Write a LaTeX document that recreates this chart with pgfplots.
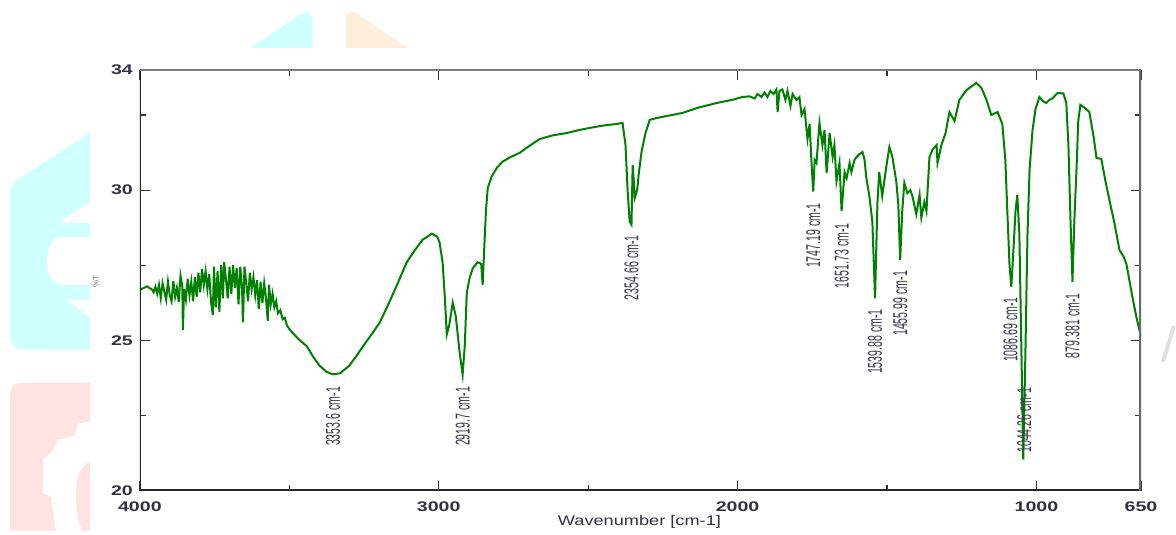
\documentclass[border=0pt]{standalone}
\usepackage{fontspec}
\setmainfont{Liberation Sans}
\newfontfamily\tickfont[FakeStretch=1.4]{Liberation Sans}
\newfontfamily\labfont[FakeStretch=1.3]{Liberation Sans}
\newfontfamily\annfont[FakeStretch=0.53]{Liberation Sans}
\usepackage{pgfplots}
\usepackage{pgfplotstable}
\pgfplotsset{compat=1.18}
\definecolor{spec}{RGB}{0,128,0}
\definecolor{txt}{RGB}{48,50,66}
\definecolor{annc}{RGB}{55,57,78}
\definecolor{wmcyan}{RGB}{208,255,255}
\definecolor{wmpink}{RGB}{255,226,226}
\definecolor{wmorange}{RGB}{255,238,220}
\definecolor{topgray}{RGB}{125,125,125}
\definecolor{rightgray}{RGB}{105,105,105}

\pgfplotstableread{
w v
4000 26.68
3992 26.72
3984 26.76
3976 26.80
3968 26.74
3960 26.70
3954 26.60
3948 26.78
3942 26.55
3936 26.85
3930 26.40
3924 26.90
3918 26.62
3912 26.35
3906 26.95
3900 26.50
3894 26.30
3888 26.98
3882 26.45
3876 26.75
3870 26.28
3864 27.15
3858 26.80
3856 25.35
3852 26.70
3846 26.35
3840 27.05
3834 26.50
3828 26.95
3822 26.30
3816 27.10
3810 26.45
3804 27.25
3798 26.60
3792 27.38
3786 26.85
3780 27.30
3774 26.70
3768 27.20
3762 26.30
3756 25.85
3752 27.45
3746 26.10
3740 27.30
3734 25.95
3728 27.50
3722 26.40
3718 27.60
3712 27.05
3706 26.40
3700 27.45
3694 26.55
3688 27.50
3682 26.75
3676 27.40
3670 26.20
3664 27.45
3658 26.70
3655 25.60
3650 27.45
3644 26.90
3638 26.30
3632 27.25
3626 26.70
3620 27.10
3614 26.50
3608 27.00
3602 26.05
3596 26.95
3590 26.25
3584 26.90
3578 26.40
3572 25.65
3568 26.85
3562 26.20
3556 26.55
3550 26.10
3544 26.30
3538 25.90
3530 26.00
3522 25.70
3515 25.75
3508 25.50
3498 25.35
3470 25.05
3441 24.80
3420 24.45
3398 24.15
3375 23.95
3355 23.87
3331 23.90
3300 24.15
3274 24.50
3250 24.85
3221 25.25
3197 25.60
3164 26.30
3135 26.95
3107 27.60
3080 28.00
3054 28.35
3023 28.55
3005 28.45
2997 28.25
2987 27.60
2980 26.50
2973 25.20
2965 25.50
2953 26.25
2943 25.80
2930 24.60
2920 23.86
2913 24.80
2906 26.60
2896 27.10
2886 27.40
2870 27.60
2858 27.55
2853 26.85
2848 28.00
2842 29.30
2836 30.07
2823 30.45
2805 30.75
2786 30.95
2760 31.10
2729 31.24
2700 31.45
2662 31.70
2620 31.82
2572 31.90
2530 32.00
2495 32.07
2450 32.15
2405 32.20
2385 32.24
2375 31.50
2368 30.00
2361 28.95
2355 28.85
2351 30.84
2346 30.10
2344 29.74
2336 30.00
2330 30.60
2321 31.30
2308 31.90
2294 32.34
2271 32.40
2230 32.48
2184 32.57
2130 32.75
2070 32.90
2020 33.00
1983 33.10
1960 33.12
1943 33.05
1933 33.20
1920 33.10
1910 33.25
1900 33.10
1890 33.30
1880 33.20
1870 33.35
1866 32.60
1860 33.30
1850 33.35
1840 33.00
1833 33.30
1823 32.80
1816 33.20
1803 33.00
1793 33.10
1786 32.50
1776 32.70
1766 31.70
1759 32.20
1753 31.00
1747 29.95
1742 31.00
1736 30.90
1726 32.24
1716 31.50
1709 32.00
1702 30.57
1692 31.90
1682 31.10
1676 31.50
1669 30.30
1659 30.90
1652 29.30
1642 30.60
1635 30.40
1625 30.90
1619 30.60
1609 31.00
1602 31.10
1592 31.20
1582 31.27
1575 31.00
1569 30.40
1559 29.80
1549 28.95
1540 26.40
1532 29.60
1526 30.60
1516 29.80
1502 30.80
1492 31.44
1482 31.10
1469 30.30
1462 29.50
1456 27.68
1449 29.30
1442 30.24
1432 29.90
1422 30.00
1415 29.80
1402 29.20
1391 29.85
1385 29.08
1375 29.60
1368 29.30
1358 31.10
1348 31.34
1334 31.50
1331 30.90
1318 31.50
1304 31.90
1291 32.60
1274 32.30
1258 33.00
1234 33.33
1201 33.57
1184 33.40
1167 33.00
1151 32.50
1130 32.60
1114 32.20
1104 31.00
1097 29.20
1090 27.50
1084 26.78
1077 28.00
1070 29.30
1064 29.84
1057 28.50
1050 24.50
1044 21.03
1037 24.50
1030 28.50
1023 30.67
1013 32.00
1003 32.70
990 33.10
977 32.95
967 32.90
957 33.00
947 33.05
930 33.23
910 33.22
900 32.90
893 31.50
886 29.00
879.4 26.95
873 29.00
866 30.67
860 32.30
853 32.84
840 32.75
823 32.60
809 31.80
799 31.07
783 31.04
769 30.30
756 29.68
739 28.90
722 28.00
709 27.80
699 27.55
689 27.00
679 26.45
666 25.80
652 25.20
650 25.15
}\spectrum

\begin{document}
\begin{tikzpicture}
\path (0,0) rectangle (588pt,265.5pt);
\begin{scope}[yshift=265.5pt, x=0.5pt, y=-0.5pt]
  \fill[wmcyan] (90,133) -- (20,178) .. controls (12,183) and (10,188) .. (10,195) -- (10,335) .. controls (10,345) and (15,350) .. (25,350) -- (90,350) -- cycle;
  \fill[white] (90,203) -- (62,220) -- (62,223) -- (90,223) -- cycle;
  \fill[white] (90,237) -- (60,237) .. controls (50,240) and (47,250) .. (47,261) .. controls (47,275) and (52,285) .. (62,285) -- (90,285) -- cycle;
  \fill[white] (67,300) -- (90,300) -- (90,318) -- cycle;
  \fill[wmpink] (90,383) -- (22,383) .. controls (14,383) and (10,388) .. (10,396) -- (10,531) -- (90,531) -- cycle;
  \fill[white] (90,422) -- (78,424) -- (75,436) -- (58,440) -- (52,452) -- (43,460) -- (43,493) -- (51,498) -- (53,512) -- (56,531) -- (90,531) -- cycle;
  \fill[wmpink] (90,462) .. controls (80,466) and (76,480) .. (76,495) .. controls (76,510) and (78,522) .. (82,531) -- (90,531) -- cycle;
  \fill[wmcyan] (250,48) -- (303,13) -- (309,12) -- (311,16) -- (313,18) -- (313,48) -- cycle;
  \fill[wmorange] (346,48) -- (346,15) -- (350,12) -- (355,12) -- (408,48) -- cycle;
  \draw[black!12, line width=2pt] (1164,362) -- (1175,326);
\end{scope}
\begin{axis}[
  at={(70pt,20pt)}, anchor=south west,
  width=501pt, height=210.5pt, scale only axis,
  x dir=reverse, xmin=650, xmax=4000, ymin=20, ymax=34,
  xtick={4000,3000,2000,1000,650}, xticklabels={4000,3000,2000,1000,650},
  minor xtick={3500,2500,1500},
  ytick={20,25,30,34}, yticklabels={20,25,30,34},
  minor ytick={22.5,27.5,32.5},
  tick align=inside,
  major tick length=5pt, minor tick length=3pt,
  every tick/.style={draw=black!80, line width=0.6pt},
  ticklabel style={font=\tickfont\bfseries\fontsize{7}{8}\selectfont, text=txt},
  xticklabel style={yshift=-2pt},
  axis line style={draw=none},
  xlabel={Wavenumber [cm-1]},
  xlabel style={font=\labfont\fontsize{7}{8}\selectfont, text=txt, at={(axis description cs:0.499,-0.0736)}, anchor=center},
  ylabel={\%T},
  ylabel style={font=\fontsize{4}{5}\selectfont, text=gray, at={(axis description cs:-0.044,0.496)}, anchor=center},
]
\addplot[spec, line width=1pt, mark=none] table[x=w, y=v] {\spectrum};
\draw[black!85, line width=1.5pt] (rel axis cs:0,1) -- (rel axis cs:0,0) -- (rel axis cs:1,0);
\draw[topgray, line width=1pt] (rel axis cs:0,1) -- (rel axis cs:1,1);
\draw[rightgray, line width=1.8pt] (rel axis cs:1,1) -- (rel axis cs:1,0);
\begin{scope}[every node/.style={rotate=90, anchor=east, inner sep=0pt, text=annc, font=\annfont\fontsize{10}{11}\selectfont}]
\node at (axis cs:3353.6,23.46) {3353.6 cm-1};
\node at (axis cs:2919.7,23.46) {2919.7 cm-1};
\node at (axis cs:2354.66,28.51) {2354.66 cm-1};
\node at (axis cs:1747.19,29.58) {1747.19 cm-1};
\node at (axis cs:1651.73,28.91) {1651.73 cm-1};
\node at (axis cs:1539.88,26.05) {1539.88 cm-1};
\node at (axis cs:1455.99,27.32) {1455.99 cm-1};
\node at (axis cs:1086.69,26.45) {1086.69 cm-1};
\node at (axis cs:1041,23.43) {1044.26 cm-1};
\node at (axis cs:879.381,26.58) {879.381 cm-1};
\end{scope}
\end{axis}
\end{tikzpicture}
\end{document}
